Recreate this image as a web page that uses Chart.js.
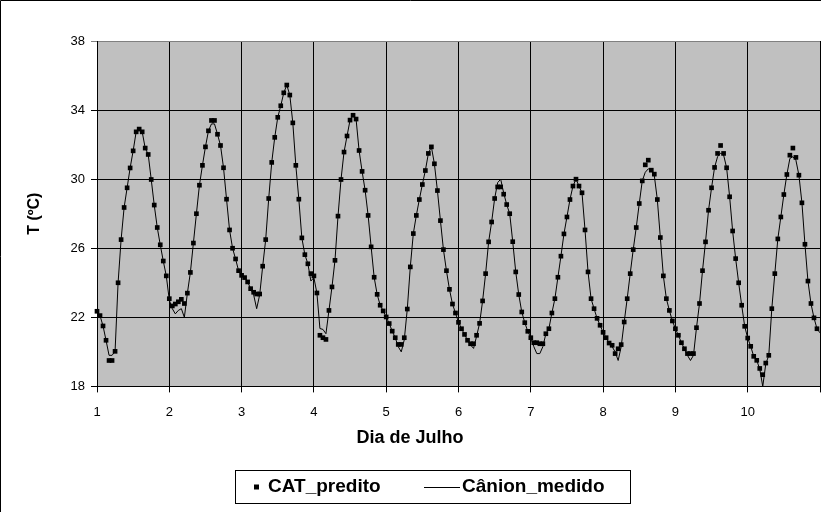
<!DOCTYPE html>
<html lang="pt">
<head>
<meta charset="utf-8">
<title>CAT_predito x Cânion_medido</title>
<script src="https://cdn.jsdelivr.net/npm/chart.js@4.4.1/dist/chart.umd.min.js"></script>
<style>
  html, body { margin: 0; padding: 0; background: #fff; }
  #quadro { position: relative; width: 821px; height: 512px; }
</style>
</head>
<body>
<div id="quadro"><canvas id="grafico"></canvas></div>
<script>
// temperatura horária de 1 a 10 de julho, uma linha por dia (0h .. 23h)
const diaInicial = 1;
const leiturasPorDia = 24;
const ticksTemp = [18, 22, 26, 30, 34, 38];
const ticksDia = [1, 2, 3, 4, 5, 6, 7, 8, 9, 10, 11];

const catPredito = [
  22.35, 22.1, 21.5, 20.67, 19.5, 19.5, 20.03, 24.0, 26.5, 28.36, 29.5, 30.65, 31.64, 32.74, 32.9, 32.74, 31.8, 31.43, 29.98, 28.5, 27.2, 26.2, 25.26, 24.4,
  23.08, 22.66, 22.77, 22.9, 23.04, 22.8, 23.4, 24.6, 26.3, 28.0, 29.65, 30.8, 31.87, 32.8, 33.4, 33.4, 32.6, 31.95, 30.66, 28.84, 27.06, 26.0, 25.38, 24.7,
  24.43, 24.3, 24.05, 23.66, 23.45, 23.35, 23.35, 24.96, 26.5, 28.88, 30.97, 32.42, 33.58, 34.25, 35.0, 35.45, 34.87, 33.26, 30.8, 28.84, 26.6, 25.63, 25.1, 24.53,
  24.4, 23.41, 20.96, 20.82, 20.72, 22.4, 23.76, 25.3, 27.86, 29.98, 31.57, 32.5, 33.42, 33.7, 33.48, 31.66, 30.45, 29.36, 27.9, 26.08, 24.32, 23.33, 22.7, 22.37,
  22.02, 21.64, 21.2, 20.82, 20.43, 20.43, 20.82, 22.48, 24.92, 26.85, 27.9, 28.82, 29.69, 30.5, 31.49, 31.87, 30.89, 29.34, 27.6, 25.92, 24.7, 23.62, 22.77, 22.25,
  21.71, 21.34, 21.01, 20.67, 20.47, 20.47, 20.96, 21.65, 22.95, 24.53, 26.37, 27.52, 28.88, 29.55, 29.55, 29.13, 28.53, 28.0, 26.38, 24.63, 23.32, 22.31, 21.69, 21.19,
  20.82, 20.53, 20.53, 20.47, 20.47, 21.05, 21.34, 22.25, 23.08, 24.32, 25.54, 26.83, 27.81, 28.82, 29.6, 30.0, 29.6, 29.21, 27.06, 24.63, 23.08, 22.5, 21.94, 21.54,
  21.13, 20.82, 20.51, 20.38, 19.9, 20.18, 20.42, 21.73, 23.08, 24.53, 25.92, 27.2, 28.59, 29.9, 30.83, 31.1, 30.52, 30.29, 28.82, 26.62, 24.4, 23.08, 22.4, 21.79,
  21.34, 20.96, 20.53, 20.18, 19.9, 19.9, 19.9, 21.4, 22.8, 24.7, 26.37, 28.2, 29.5, 30.68, 31.49, 31.95, 31.49, 30.66, 28.98, 27.0, 25.4, 24.0, 22.7, 21.48,
  20.8, 20.32, 19.74, 19.51, 19.04, 18.68, 19.35, 19.8, 22.5, 24.53, 26.54, 27.81, 29.11, 30.27, 31.39, 31.8, 31.26, 30.23, 28.63, 26.23, 24.1, 22.8, 21.97, 21.34
];

const canionMedido = [
  22.35, 22.1, 21.5, 20.67, 19.8, 19.8, 20.03, 24.0, 26.5, 28.36, 29.5, 30.65, 31.64, 32.74, 32.9, 32.74, 31.8, 31.43, 29.98, 28.5, 27.2, 26.2, 25.26, 24.4,
  23.0, 22.5, 22.2, 22.4, 22.5, 22.0, 23.4, 24.6, 26.3, 28.0, 29.65, 30.8, 31.87, 32.8, 33.2, 33.2, 32.6, 31.95, 30.66, 28.84, 27.06, 26.0, 25.38, 24.7,
  24.43, 24.3, 24.05, 23.66, 23.3, 22.5, 23.3, 24.96, 26.5, 28.88, 30.97, 32.42, 33.58, 34.25, 35.0, 35.45, 34.87, 33.26, 30.8, 28.84, 26.6, 25.63, 25.1, 24.1,
  24.3, 23.4, 21.35, 21.3, 21.05, 22.4, 23.76, 25.3, 27.86, 29.98, 31.57, 32.5, 33.42, 33.7, 33.48, 31.66, 30.45, 29.36, 27.9, 26.08, 24.32, 23.33, 22.7, 22.37,
  22.02, 21.64, 21.2, 20.82, 20.3, 20.0, 20.7, 22.48, 24.92, 26.85, 27.9, 28.82, 29.69, 30.5, 31.49, 31.87, 30.89, 29.34, 27.6, 25.92, 24.7, 23.62, 22.77, 22.25,
  21.71, 21.34, 21.01, 20.67, 20.4, 20.2, 20.9, 21.65, 22.95, 24.53, 26.37, 27.52, 28.88, 29.8, 30.0, 29.2, 28.53, 28.0, 26.38, 24.63, 23.32, 22.31, 21.69, 21.19,
  20.82, 20.3, 19.9, 19.9, 20.3, 21.05, 21.34, 22.25, 23.08, 24.32, 25.54, 26.83, 27.81, 28.82, 29.6, 30.0, 29.6, 29.21, 27.06, 24.63, 23.08, 22.5, 21.94, 21.54,
  21.13, 20.82, 20.51, 20.3, 20.0, 19.5, 20.3, 21.73, 23.08, 24.53, 25.92, 27.2, 28.59, 29.9, 30.4, 30.6, 30.5, 30.2, 28.82, 26.62, 24.4, 23.08, 22.4, 21.79,
  21.34, 20.96, 20.53, 20.18, 19.8, 19.5, 19.8, 21.4, 22.8, 24.7, 26.37, 28.2, 29.5, 30.68, 31.3, 31.5, 31.4, 30.66, 28.98, 27.0, 25.4, 24.0, 22.7, 21.48,
  20.8, 20.32, 19.74, 19.51, 19.0, 18.0, 19.3, 19.8, 22.5, 24.53, 26.54, 27.81, 29.11, 30.27, 31.2, 31.3, 31.1, 30.23, 28.63, 26.23, 24.1, 22.8, 21.97, 21.34,
  21.1
];

const fonte = '"Liberation Sans", Arial, sans-serif';

// cada leitura vira um ponto {x: dia decimal, y: temperatura}
const porHora = serie => serie.map((t, i) => ({ x: diaInicial + i / leiturasPorDia, y: t }));

// fundo cinza da área de plotagem
const fundoPlot = {
  id: 'fundoPlot',
  beforeDraw(chart) {
    const { ctx, chartArea: a } = chart;
    ctx.save();
    ctx.fillStyle = '#c0c0c0';
    ctx.fillRect(a.left, a.top, a.right - a.left, a.bottom - a.top);
    ctx.restore();
  }
};

// moldura externa e legenda em caixa
const moldura = {
  id: 'moldura',
  afterDraw(chart) {
    const { ctx } = chart;
    const [cat, canion] = chart.data.datasets;
    ctx.save();
    ctx.strokeStyle = '#000';
    ctx.lineWidth = 1;
    ctx.beginPath();
    ctx.moveTo(0.5, 512);
    ctx.lineTo(0.5, 0.5);
    ctx.lineTo(821, 0.5);
    ctx.stroke();

    const y = 487;
    ctx.strokeRect(235.5, 470.5, 395, 33);
    ctx.fillStyle = '#000';
    ctx.fillRect(254, y - 2.5, 5, 5);
    ctx.font = 'bold 19px ' + fonte;
    ctx.textBaseline = 'middle';
    ctx.fillText(cat.label, 268, y);
    ctx.beginPath();
    ctx.moveTo(424, y + 0.5);
    ctx.lineTo(460, y + 0.5);
    ctx.stroke();
    ctx.fillText(canion.label, 462, y);
    ctx.restore();
  }
};

new Chart(document.getElementById('grafico'), {
  type: 'line',
  data: {
    datasets: [
      {
        label: 'CAT_predito',
        data: porHora(catPredito),
        showLine: false,
        pointStyle: 'rect',
        pointRadius: 3.3,
        pointBorderWidth: 0,
        pointBackgroundColor: '#000',
        pointBorderColor: '#000',
        clip: false
      },
      {
        label: 'Cânion_medido',
        data: porHora(canionMedido),
        borderColor: '#000',
        borderWidth: 1,
        pointRadius: 0,
        tension: 0,
        clip: false
      }
    ]
  },
  options: {
    responsive: true,
    maintainAspectRatio: false,
    animation: false,
    events: [],
    layout: { autoPadding: false, padding: { top: 41, right: 1, bottom: 53, left: 0 } },
    plugins: {
      legend: { display: false },
      tooltip: { enabled: false },
      title: {
        display: true,
        position: 'bottom',
        text: 'Dia de Julho',
        color: '#000',
        font: { family: fonte, size: 18, weight: 'bold' },
        padding: { top: 10, bottom: 10 }
      }
    },
    scales: {
      x: {
        type: 'linear',
        min: ticksDia[0],
        max: ticksDia[ticksDia.length - 1],
        afterBuildTicks: s => { s.ticks = ticksDia.map(v => ({ value: v })); },
        afterFit: s => {
          s.height = 31;
          s.paddingLeft = 0;
          s.paddingRight = 0;
        },
        ticks: {
          autoSkip: false,
          maxRotation: 0,
          padding: 12,
          color: '#000',
          font: { family: fonte, size: 13 },
          callback: v => (v < ticksDia[ticksDia.length - 1] ? v : '')
        },
        grid: { color: '#000', lineWidth: 1, tickLength: 6 },
        border: { color: '#000' }
      },
      y: {
        min: ticksTemp[0],
        max: ticksTemp[ticksTemp.length - 1],
        afterBuildTicks: s => { s.ticks = ticksTemp.map(v => ({ value: v })); },
        afterFit: s => { s.width = 97; },
        ticks: {
          padding: 6,
          color: '#000',
          font: { family: fonte, size: 13 }
        },
        grid: {
          color: c => (c.tick && c.tick.value === 38 ? '#808080' : '#000'),
          lineWidth: 1,
          tickLength: 6
        },
        border: { color: '#000' },
        title: {
          display: true,
          text: 'T (ºC)',
          color: '#000',
          font: { family: fonte, size: 16, weight: 'bold' },
          padding: { top: 25, bottom: 0 }
        }
      }
    }
  },
  plugins: [fundoPlot, moldura]
});
</script>
</body>
</html>
